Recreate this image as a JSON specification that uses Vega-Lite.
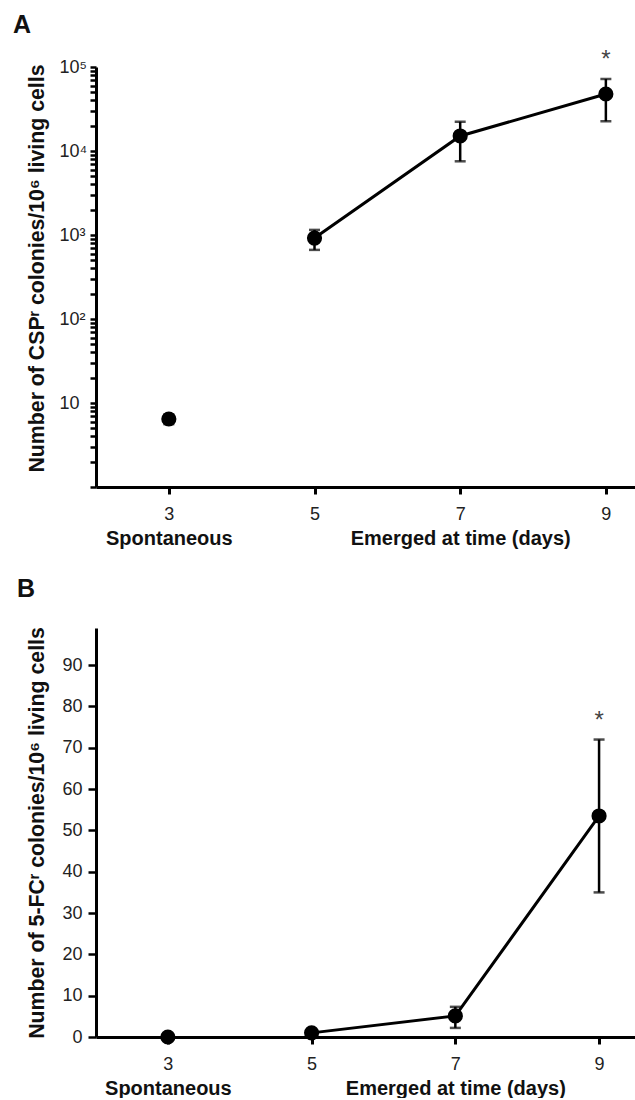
{
  "$schema": "https://vega.github.io/schema/vega-lite/v6.json",
  "padding": {"left": 13, "top": 12, "right": 0, "bottom": 0},
  "background": "white",
  "config": {"font": "Liberation Sans", "view": {"stroke": null}},
  "datasets": {
    "a": [
      {"day": 3, "mean": 6.45, "lo": 5.6, "hi": 7.3, "sig": ""},
      {"day": 5, "mean": 920, "lo": 665, "hi": 1150, "sig": ""},
      {"day": 7, "mean": 15100, "lo": 7540, "hi": 22300, "sig": ""},
      {"day": 9, "mean": 47700, "lo": 22600, "hi": 72000, "sig": "*"}
    ],
    "b": [
      {"day": 3, "mean": 0, "lo": 0, "hi": 0, "sig": ""},
      {"day": 5, "mean": 1, "lo": 0.4, "hi": 1.6, "sig": ""},
      {"day": 7, "mean": 5.1, "lo": 2.2, "hi": 7.3, "sig": ""},
      {"day": 9, "mean": 53.5, "lo": 35, "hi": 72, "sig": "*"}
    ]
  },
  "vconcat": [
    {
      "width": 539,
      "height": 420,
      "title": {"text": "A", "anchor": "start", "frame": "group", "dx": -83, "offset": 10, "fontSize": 25, "fontWeight": "bold", "color": "#111", "font": "Liberation Sans"},
      "data": {"name": "a"},
      "layer": [
        {
          "mark": {"type": "line", "color": "black", "strokeWidth": 3},
          "transform": [{"filter": "datum.day >= 5"}],
          "encoding": {
            "x": {"field": "day", "type": "quantitative", "scale": {"domain": [2, 9.4], "nice": false, "zero": false},
              "axis": {"values": [3, 5, 7, 9], "title": null, "grid": false, "domainWidth": 3, "domainColor": "black", "tickWidth": 3, "tickSize": 7, "tickColor": "black", "labelFontSize": 18, "labelPadding": 11, "labelColor": "#222", "labelFlush": false}},
            "y": {"field": "mean", "type": "quantitative", "title": "Number of CSPʳ colonies/10⁶ living cells", "scale": {"type": "log", "domain": [1, 100000], "nice": false},
              "axis": {"titleFontSize": 21.3, "titleFontWeight": "bold", "titleColor": "#111", "titlePadding": 12, "titleY": 201,
                "values": [1,2,3,4,5,6,7,8,9,10,20,30,40,50,60,70,80,90,100,200,300,400,500,600,700,800,900,1000,2000,3000,4000,5000,6000,7000,8000,9000,10000,20000,30000,40000,50000,60000,70000,80000,90000,100000],
                "labelExpr": "datum.value == 10 ? '10' : datum.value == 100 ? '10²' : datum.value == 1000 ? '10³' : datum.value == 10000 ? '10⁴' : datum.value == 100000 ? '10⁵' : ''",
                "labelAlign": "left", "labelPadding": 31, "labelFontSize": 18, "labelColor": "#222", "labelOverlap": false, "labelFlush": false,
                "tickSize": 6, "tickWidth": 2.5, "tickColor": "black", "domainWidth": 3, "domainColor": "black", "grid": false}}
          }
        },
        {
          "mark": {"type": "errorbar", "color": "black", "thickness": 2.5, "size": 11, "ticks": true},
          "encoding": {
            "x": {"field": "day", "type": "quantitative", "axis": null},
            "y": {"field": "lo", "type": "quantitative", "title": "Number of CSPʳ colonies/10⁶ living cells"},
            "y2": {"field": "hi"}
          }
        },
        {
          "mark": {"type": "circle", "size": 230, "color": "black", "opacity": 1},
          "encoding": {
            "x": {"field": "day", "type": "quantitative", "axis": null},
            "y": {"field": "mean", "type": "quantitative", "title": "Number of CSPʳ colonies/10⁶ living cells"}
          }
        },
        {
          "mark": {"type": "text", "fontSize": 24, "color": "#444", "baseline": "alphabetic", "dy": -12},
          "transform": [{"filter": "datum.sig == '*'"}],
          "encoding": {
            "x": {"field": "day", "type": "quantitative",
              "axis": {"orient": "bottom", "values": [3, 7], "labelExpr": "datum.value == 3 ? 'Spontaneous' : 'Emerged at time (days)'", "domain": false, "ticks": false, "grid": false, "title": null, "labelFontSize": 20, "labelFontWeight": "bold", "labelColor": "#111", "labelPadding": 41, "labelLimit": 0, "labelFlush": false, "labelOverlap": false}},
            "y": {"field": "hi", "type": "quantitative", "title": "Number of CSPʳ colonies/10⁶ living cells"},
            "text": {"field": "sig"}
          }
        }
      ],
      "resolve": {"axis": {"x": "independent"}}
    },
    {
      "width": 539,
      "height": 409,
      "title": {"text": "B", "anchor": "start", "frame": "group", "dx": -79, "offset": 25, "fontSize": 25, "fontWeight": "bold", "color": "#111", "font": "Liberation Sans"},
      "data": {"name": "b"},
      "layer": [
        {
          "mark": {"type": "line", "color": "black", "strokeWidth": 3},
          "transform": [{"filter": "datum.day >= 5"}],
          "encoding": {
            "x": {"field": "day", "type": "quantitative", "scale": {"domain": [2, 9.5], "nice": false, "zero": false},
              "axis": {"values": [3, 5, 7, 9], "title": null, "grid": false, "domainWidth": 3, "domainColor": "black", "tickWidth": 3, "tickSize": 7, "tickColor": "black", "labelFontSize": 18, "labelPadding": 11, "labelColor": "#222", "labelFlush": false}},
            "y": {"field": "mean", "type": "quantitative", "title": "Number of 5-FCʳ colonies/10⁶ living cells", "scale": {"domain": [0, 99], "nice": false, "zero": false},
              "axis": {"titleFontSize": 21.3, "titleFontWeight": "bold", "titleColor": "#111", "titlePadding": 14,
                "values": [0, 10, 20, 30, 40, 50, 60, 70, 80, 90],
                "labelPadding": 6, "labelFontSize": 18, "labelColor": "#222", "labelOverlap": false, "labelFlush": false,
                "tickSize": 8, "tickWidth": 2.5, "tickColor": "black", "domainWidth": 3, "domainColor": "black", "grid": false}}
          }
        },
        {
          "mark": {"type": "errorbar", "color": "black", "thickness": 2.5, "size": 11, "ticks": true},
          "encoding": {
            "x": {"field": "day", "type": "quantitative", "axis": null},
            "y": {"field": "lo", "type": "quantitative", "title": "Number of 5-FCʳ colonies/10⁶ living cells"},
            "y2": {"field": "hi"}
          }
        },
        {
          "mark": {"type": "circle", "size": 230, "color": "black", "opacity": 1},
          "encoding": {
            "x": {"field": "day", "type": "quantitative", "axis": null},
            "y": {"field": "mean", "type": "quantitative", "title": "Number of 5-FCʳ colonies/10⁶ living cells"}
          }
        },
        {
          "mark": {"type": "text", "fontSize": 24, "color": "#444", "baseline": "alphabetic", "dy": -12},
          "transform": [{"filter": "datum.sig == '*'"}],
          "encoding": {
            "x": {"field": "day", "type": "quantitative",
              "axis": {"orient": "bottom", "values": [3, 7], "labelExpr": "datum.value == 3 ? 'Spontaneous' : 'Emerged at time (days)'", "domain": false, "ticks": false, "grid": false, "title": null, "labelFontSize": 20, "labelFontWeight": "bold", "labelColor": "#111", "labelPadding": 41, "labelLimit": 0, "labelFlush": false, "labelOverlap": false}},
            "y": {"field": "hi", "type": "quantitative", "title": "Number of 5-FCʳ colonies/10⁶ living cells"},
            "text": {"field": "sig"}
          }
        }
      ],
      "resolve": {"axis": {"x": "independent"}}
    }
  ],
  "spacing": 141,
  "bounds": "flush"
}
